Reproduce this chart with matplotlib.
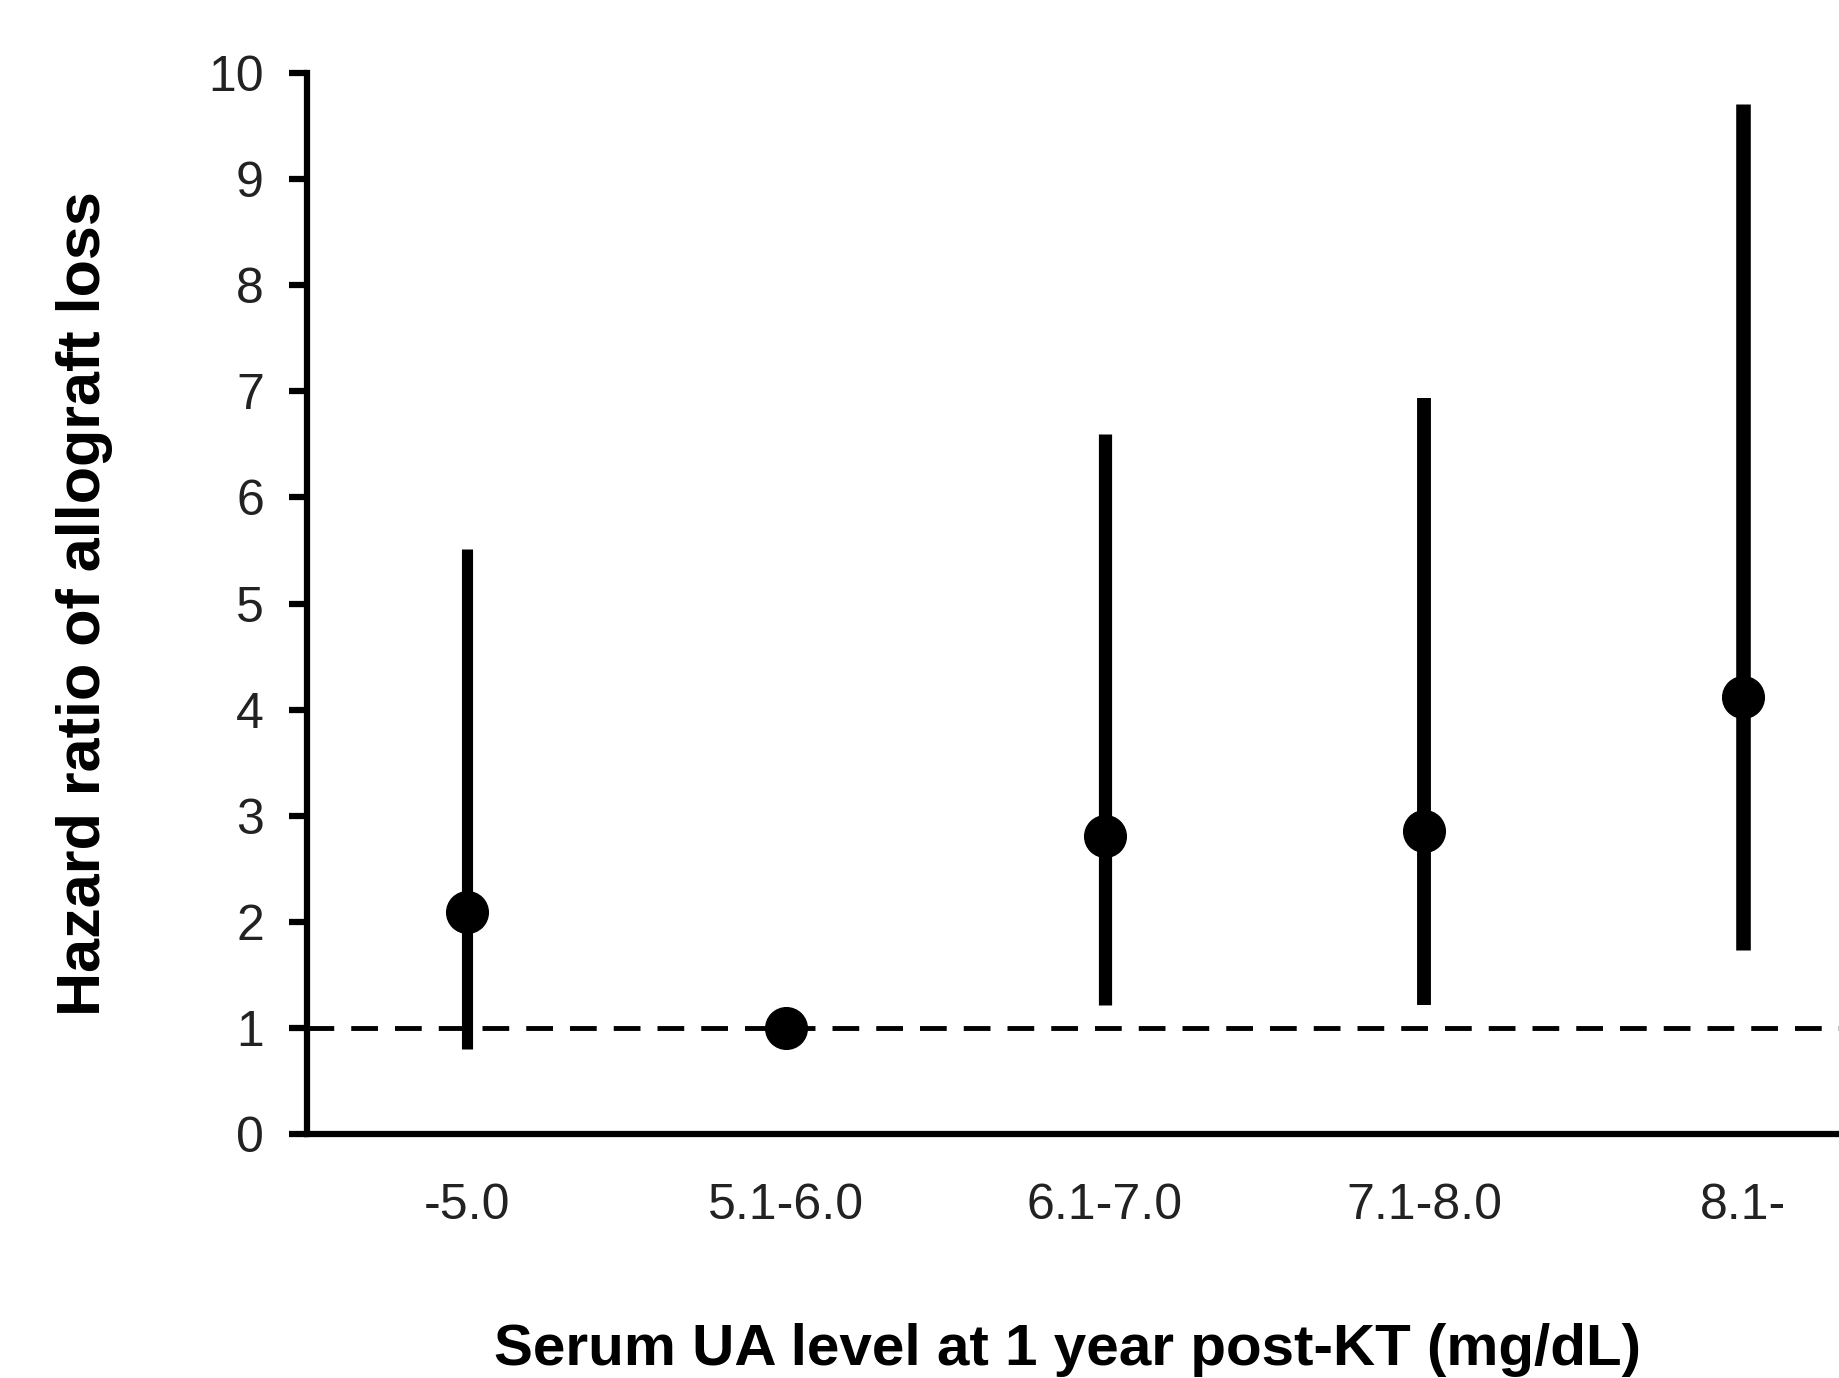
import matplotlib
matplotlib.use("Agg")
import matplotlib.pyplot as plt
import numpy as np

categories = ["-5.0", "5.1-6.0", "6.1-7.0", "7.1-8.0", "8.1-"]
hazard_ratio = [2.09, 1.0, 2.81, 2.86, 4.12]
ci_lower = [0.80, 1.0, 1.22, 1.22, 1.73]
ci_upper = [5.51, 1.0, 6.60, 6.94, 9.71]
yticks = list(range(0, 11))

plt.rcParams['font.family'] = ['Liberation Sans', 'DejaVu Sans']

fig = plt.figure(figsize=(18.39, 13.78), dpi=100)
ax = fig.add_axes([307/1839, 244/1378, 1 - 307/1839, (1305-244)/1378])

x = np.arange(1, len(categories) + 1)
bar_lw = [8, 10.5, 9.5, 10, 10.5]
for xi, lo, hi, lw in zip(x, ci_lower, ci_upper, bar_lw):
    if hi > lo:
        ax.vlines(xi, lo, hi, colors='black', linewidth=lw, zorder=3)
ax.plot(x, hazard_ratio, 'o', color='black', markersize=30, zorder=4, clip_on=False)

ax.axhline(1, color='black', linewidth=3.5, linestyle=(0, (5.5, 3.5)), zorder=2)

ax.set_xlim(0.5, 5.3)
ax.set_ylim(0, 10)
ax.set_xticks(x)
ax.set_xticklabels(categories)
ax.set_yticks(yticks)
ax.set_yticklabels([str(t) for t in yticks])

for s in ['top', 'right']:
    ax.spines[s].set_visible(False)
for s in ['left', 'bottom']:
    ax.spines[s].set_linewidth(4.5)
    ax.spines[s].set_color('black')

ax.tick_params(axis='y', direction='out', length=13, width=4.5, labelsize=36, pad=18, colors='black')
ax.tick_params(axis='x', length=0, labelsize=36, pad=35, colors='black')
for lab in ax.get_xticklabels() + ax.get_yticklabels():
    lab.set_color('#222222')

ax.set_ylabel("Hazard ratio of allograft loss", fontsize=44, fontweight='bold')
ax.yaxis.set_label_coords((85-307)/(1839-307), 0.5)
ax.yaxis.label.set_verticalalignment('center')

ax.set_xlabel("Serum UA level at 1 year post-KT (mg/dL)", fontsize=42, fontweight='bold')
ax.xaxis.set_label_coords((1067-307)/(1839-307), -(1350-1134)/(1134-73))
ax.xaxis.label.set_verticalalignment('center')

fig.savefig("out.png", dpi=100)
